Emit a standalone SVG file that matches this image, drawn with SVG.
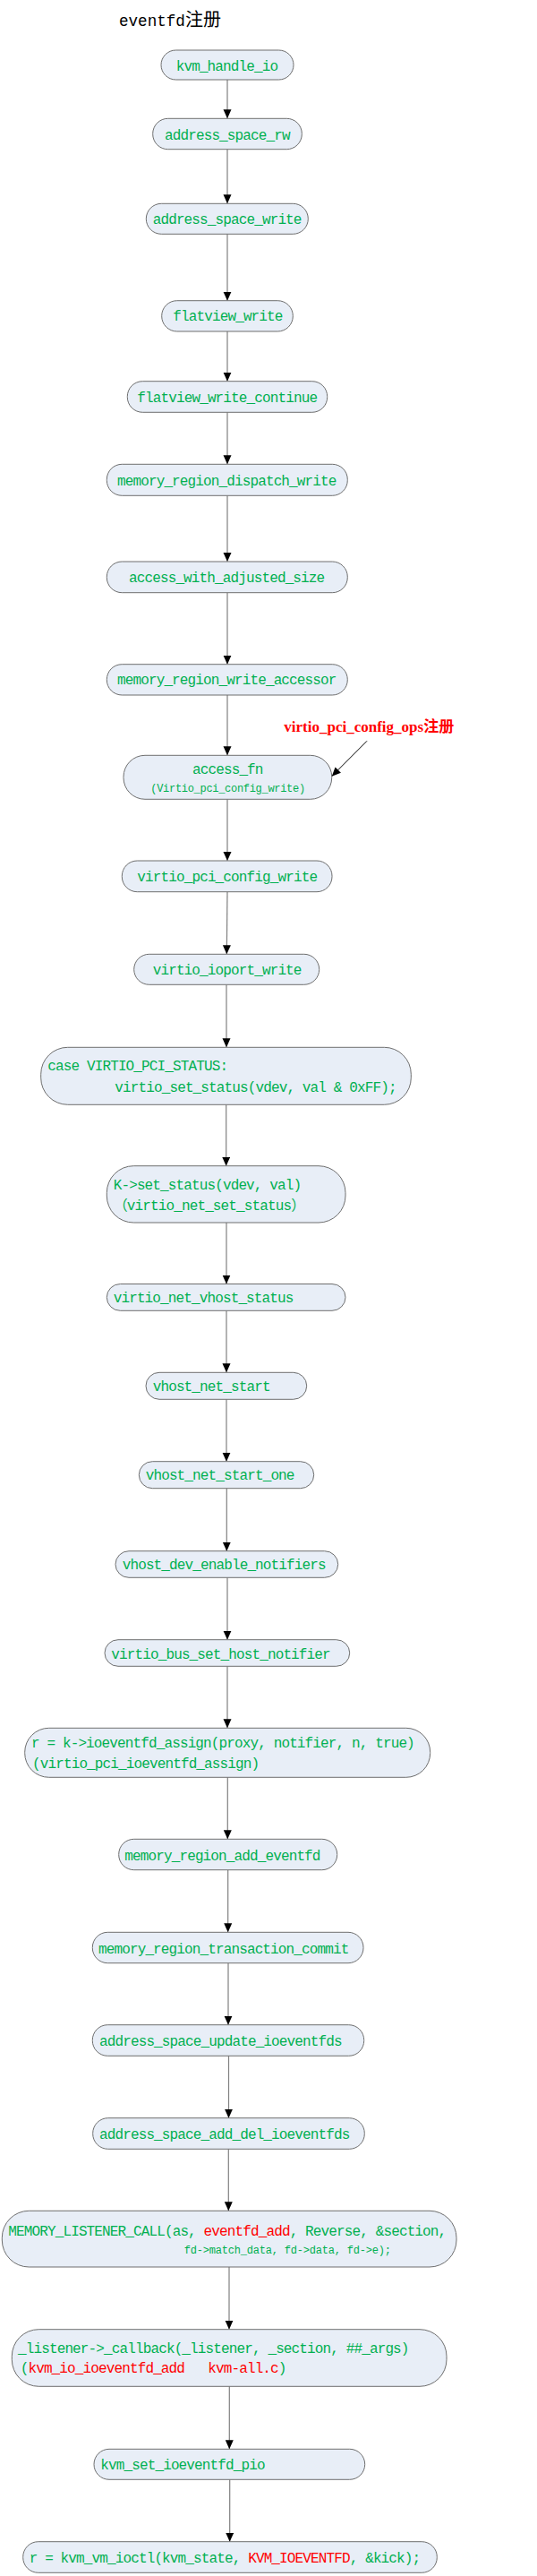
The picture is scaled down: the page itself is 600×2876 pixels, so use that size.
<svg xmlns="http://www.w3.org/2000/svg" width="600" height="2876" viewBox="0 0 600 2876">
<defs>
<style>
.n rect{fill:#e8eef7;stroke:#6e6e6e;stroke-width:1}
.t{font-family:"Liberation Mono","Noto Sans CJK SC",monospace;font-size:16px;letter-spacing:-0.87px;fill:#00b050}
.s{font-family:"Liberation Mono",monospace;font-size:12px;letter-spacing:-0.3px;fill:#00b050}
.r{fill:#ff0000}
.c line{stroke:#808080;stroke-width:1.2;marker-end:url(#ah)}
</style>
<marker id="ah" markerUnits="userSpaceOnUse" markerWidth="10" markerHeight="10" refX="10" refY="4.5" orient="auto"><path d="M0,0 L10,4.5 L0,9 z" fill="#000"/></marker>
</defs>
<rect width="600" height="2876" fill="#fff"/>
<text id="title" x="133" y="29" font-family="Liberation Mono,monospace" font-size="17.6" fill="#000">eventfd<tspan font-family="Noto Sans CJK SC,sans-serif" font-size="20">注册</tspan></text>
<g id="connectors" class="c">
<line x1="254" y1="89" x2="254" y2="132.3"/>
<line x1="254" y1="166.7" x2="254" y2="227.3"/>
<line x1="254" y1="261.3" x2="254" y2="335.7"/>
<line x1="254" y1="370" x2="254" y2="425.7"/>
<line x1="254" y1="460.3" x2="254" y2="518.3"/>
<line x1="254" y1="553.3" x2="254" y2="627"/>
<line x1="254" y1="661.7" x2="254" y2="741.7"/>
<line x1="254" y1="776" x2="254" y2="843.3"/>
<line x1="254" y1="892.3" x2="254" y2="961"/>
<line x1="254" y1="995.7" x2="253.3" y2="1065.3"/>
<line x1="253" y1="1099.3" x2="253" y2="1169.3"/>
<line x1="252.7" y1="1233.3" x2="252.7" y2="1301.7"/>
<line x1="253" y1="1365" x2="253" y2="1433.5"/>
<line x1="253" y1="1463.3" x2="253" y2="1532.3"/>
<line x1="253" y1="1562.3" x2="253" y2="1631.7"/>
<line x1="253.3" y1="1661.7" x2="253.3" y2="1731.7"/>
<line x1="254" y1="1761.3" x2="254" y2="1830.7"/>
<line x1="254" y1="1860.3" x2="254" y2="1929.3"/>
<line x1="254.3" y1="1984.3" x2="254.3" y2="2053.3"/>
<line x1="254.7" y1="2087.7" x2="254.7" y2="2157.3"/>
<line x1="255" y1="2191.7" x2="255" y2="2260.7"/>
<line x1="255.5" y1="2295.3" x2="255.5" y2="2364.7"/>
<line x1="255.3" y1="2399.3" x2="255.3" y2="2468.3"/>
<line x1="256" y1="2531" x2="256" y2="2600.7"/>
<line x1="256.3" y1="2664.3" x2="256.3" y2="2734.3"/>
<line x1="256.7" y1="2768.3" x2="256.7" y2="2837.7"/>
<line x1="410" y1="827.3" x2="370.7" y2="866.7" style="stroke:#000;stroke-width:1"/>
</g>
<text id="note" x="317.3" y="816.7" font-family="Liberation Serif,Noto Sans CJK SC,serif" font-weight="bold" font-size="17" fill="#ff0000">virtio_pci_config_ops注册</text>
<g id="n1" class="n"><rect x="180" y="56" width="148" height="33" rx="16.5"/><text class="t" x="196.7" y="79">kvm_handle_io</text></g>
<g id="n2" class="n"><rect x="170.7" y="132.3" width="166.6" height="34.4" rx="17"/><text class="t" x="184" y="155.5">address_space_rw</text></g>
<g id="n3" class="n"><rect x="163.3" y="227.3" width="181" height="34" rx="17"/><text class="t" x="170.7" y="250">address_space_write</text></g>
<g id="n4" class="n"><rect x="180.7" y="335.7" width="146.6" height="34.3" rx="17"/><text class="t" x="193.3" y="358.3">flatview_write</text></g>
<g id="n5" class="n"><rect x="142.3" y="425.7" width="223.4" height="34.6" rx="17"/><text class="t" x="153.3" y="449">flatview_write_continue</text></g>
<g id="n6" class="n"><rect x="119.3" y="518.3" width="269" height="35" rx="17"/><text class="t" x="131" y="541.7">memory_region_dispatch_write</text></g>
<g id="n7" class="n"><rect x="119.3" y="627" width="269" height="34.7" rx="17"/><text class="t" x="144" y="650">access_with_adjusted_size</text></g>
<g id="n8" class="n"><rect x="119.3" y="741.7" width="269" height="34.3" rx="17"/><text class="t" x="131" y="764.3">memory_region_write_accessor</text></g>
<g id="n9" class="n"><rect x="138" y="843.3" width="232.7" height="49" rx="24"/><text class="t" x="215" y="864">access_fn</text><text class="s" x="168.3" y="884">(Virtio_pci_config_write)</text></g>
<g id="n10" class="n"><rect x="136.3" y="961" width="234.7" height="34.7" rx="17"/><text class="t" x="153.3" y="984.3">virtio_pci_config_write</text></g>
<g id="n11" class="n"><rect x="149.7" y="1065.3" width="207" height="34" rx="17"/><text class="t" x="170.7" y="1088">virtio_ioport_write</text></g>
<g id="n12" class="n"><rect x="45.7" y="1169.3" width="413.6" height="64" rx="30"/><text class="t" x="53.3" y="1195">case VIRTIO_PCI_STATUS:</text><text class="t" x="128.3" y="1219.3">virtio_set_status(vdev, val &amp; 0xFF);</text></g>
<g id="n13" class="n"><rect x="119.3" y="1301.7" width="266.7" height="63.3" rx="30"/><text class="t" x="126.7" y="1327.7">K-&gt;set_status(vdev, val)</text><text class="t" x="126.7" y="1350.7">（virtio_net_set_status）</text></g>
<g id="n14" class="n"><rect x="119.3" y="1433.5" width="266.7" height="29.8" rx="15"/><text class="t" x="126.7" y="1454">virtio_net_vhost_status</text></g>
<g id="n15" class="n"><rect x="163" y="1532.3" width="179.7" height="30" rx="15"/><text class="t" x="170.7" y="1553.3">vhost_net_start</text></g>
<g id="n16" class="n"><rect x="155.3" y="1631.7" width="195.4" height="30" rx="15"/><text class="t" x="162.7" y="1652.3">vhost_net_start_one</text></g>
<g id="n17" class="n"><rect x="129" y="1731.7" width="248.7" height="29.6" rx="15"/><text class="t" x="136.7" y="1751.7">vhost_dev_enable_notifiers</text></g>
<g id="n18" class="n"><rect x="117" y="1830.7" width="273.7" height="29.6" rx="15"/><text class="t" x="124.3" y="1851.7">virtio_bus_set_host_notifier</text></g>
<g id="n19" class="n"><rect x="27.7" y="1929.3" width="453" height="55" rx="27"/><text class="t" x="35" y="1951">r = k-&gt;ioeventfd_assign(proxy, notifier, n, true)</text><text class="t" x="36" y="1974.3">(virtio_pci_ioeventfd_assign)</text></g>
<g id="n20" class="n"><rect x="132.7" y="2053.3" width="244" height="34.4" rx="17"/><text class="t" x="139.3" y="2076.7">memory_region_add_eventfd</text></g>
<g id="n21" class="n"><rect x="103.3" y="2157.3" width="302.7" height="34.4" rx="17"/><text class="t" x="110" y="2180.7">memory_region_transaction_commit</text></g>
<g id="n22" class="n"><rect x="103.3" y="2260.7" width="303.4" height="34.6" rx="17"/><text class="t" x="111" y="2284">address_space_update_ioeventfds</text></g>
<g id="n23" class="n"><rect x="103.7" y="2364.7" width="303.6" height="34.6" rx="17"/><text class="t" x="111" y="2387.7">address_space_add_del_ioeventfds</text></g>
<g id="n24" class="n"><rect x="2.3" y="2468.3" width="507.7" height="62.7" rx="30"/><text class="t" x="9.3" y="2495.7">MEMORY_LISTENER_CALL(as, <tspan class="r">eventfd_add</tspan>, Reverse, &amp;section,</text><text class="s" x="205.7" y="2516" style="letter-spacing:-0.2px">fd-&gt;match_data, fd-&gt;data, fd-&gt;e);</text></g>
<g id="n25" class="n"><rect x="13.3" y="2600.7" width="485.7" height="63.6" rx="30"/><text class="t" x="20" y="2626.7">_listener-&gt;_callback(_listener, _section, ##_args)</text><text class="t" x="22.7" y="2649.3" xml:space="preserve">(<tspan class="r">kvm_io_ioeventfd_add   kvm-all.c</tspan>)</text></g>
<g id="n26" class="n"><rect x="105" y="2734.3" width="302.7" height="34" rx="17"/><text class="t" x="112.3" y="2757.3">kvm_set_ioeventfd_pio</text></g>
<g id="n27" class="n"><rect x="25.7" y="2837.7" width="462.6" height="34.6" rx="17"/><text class="t" x="32.7" y="2861">r = kvm_vm_ioctl(kvm_state, <tspan class="r">KVM_IOEVENTFD</tspan>, &amp;kick);</text></g>
</svg>
